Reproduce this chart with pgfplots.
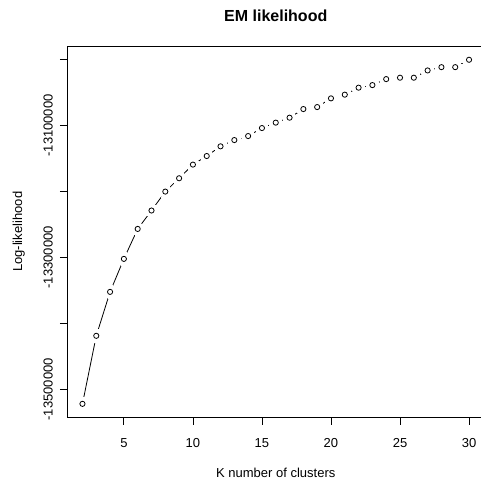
\documentclass[border=0pt]{standalone}
\usepackage{pgfplots}
\usepackage{pgfplotstable}
\pgfplotsset{compat=1.18}
\usepackage{fontspec}
\setmainfont{Liberation Sans}
\pgfplotstableread{
k ll
2 -13522000
3 -13418900
4 -13352300
5 -13302300
6 -13256900
7 -13229000
8 -13200300
9 -13180100
10 -13159400
11 -13146400
12 -13131700
13 -13122200
14 -13116100
15 -13104000
16 -13095800
17 -13088300
18 -13075200
19 -13072200
20 -13059000
21 -13053400
22 -13042800
23 -13038900
24 -13029800
25 -13027700
26 -13027700
27 -13016700
28 -13011700
29 -13011700
30 -13000500
}\data
\begin{document}
\begin{tikzpicture}
\begin{axis}[
  at={(67bp,62.4bp)}, anchor=south west,
  scale only axis, width=417.5bp, height=371.6bp,
  xmin=0.88, xmax=31.12,
  ymin=-13542860, ymax=-12979640,
  axis line style={line width=0.8bp},
  every tick/.style={black, line width=0.8bp},
  tick align=outside, tick pos=left,
  major tick length=7bp,
  xtick={5,10,15,20,25,30},
  ytick={-13500000,-13400000,-13300000,-13200000,-13100000,-13000000},
  yticklabels={-13500000,,-13300000,,-13100000,},
  scaled y ticks=false,
  /pgf/number format/assume math mode=true,
  ticklabel style={font=\fontsize{13bp}{15bp}\selectfont},
  xticklabel style={anchor=base, inner sep=0pt},
  xticklabel shift=22.5bp,
  yticklabel style={rotate=90, anchor=base, inner sep=0pt},
  yticklabel shift=7.3bp,
  title={\bfseries EM likelihood},
  title style={font=\fontsize{16bp}{19bp}\selectfont, at={(axis description cs:0.5,1)}, anchor=base, yshift=18.3bp},
  xlabel={K number of clusters},
  xlabel style={font=\fontsize{13bp}{15bp}\selectfont, at={([yshift=-60bp]axis description cs:0.5,0)}, anchor=base},
  ylabel={Log-likelihood},
  ylabel style={font=\fontsize{13bp}{15bp}\selectfont, at={([xshift=-45bp]axis description cs:0,0.5)}, rotate=0, anchor=base},
  clip=false,
]
\addplot[black, line width=0.8bp, no marks] table[x=k, y=ll] {\data};
\addplot[white, only marks, mark=*, mark size=6.5bp, mark options={fill=white, draw=white, line width=0pt}] table[x=k, y=ll] {\data};
\addplot[black, only marks, mark=o, mark size=2.6bp, mark options={black, line width=0.8bp}] table[x=k, y=ll] {\data};
\end{axis}
\pgfresetboundingbox
\path[use as bounding box] (0,0) rectangle (481bp,480bp);
\end{tikzpicture}
\end{document}
